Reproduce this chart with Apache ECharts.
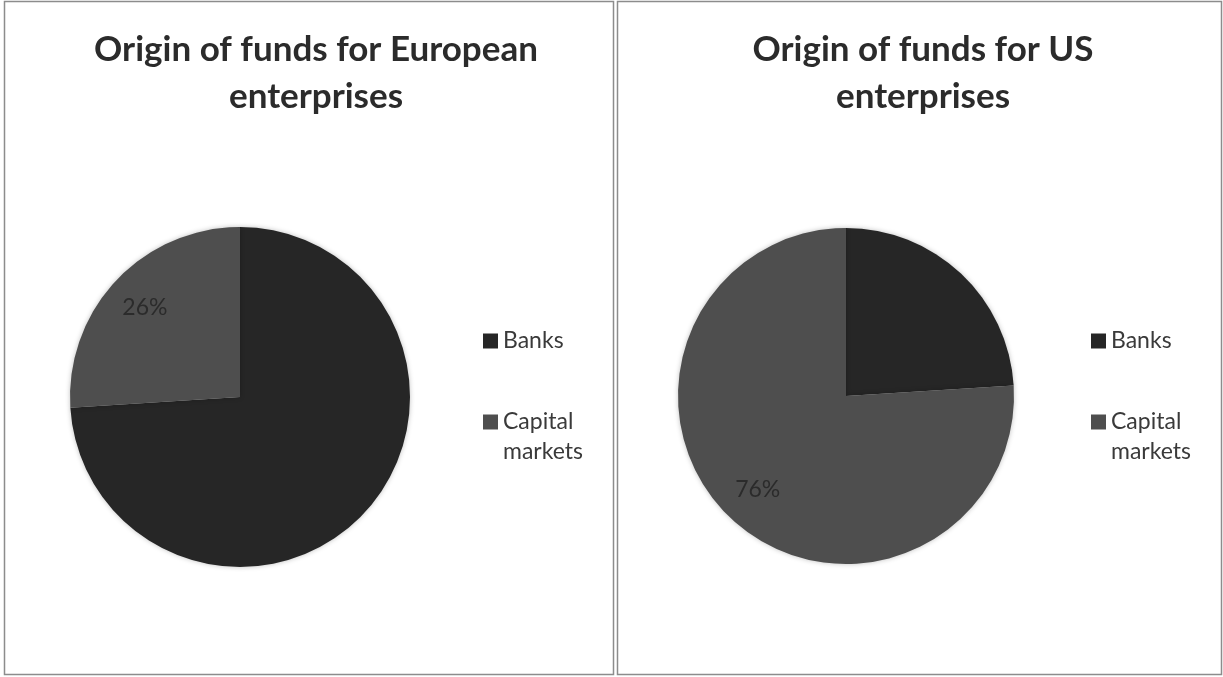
<!DOCTYPE html>
<html>
<head>
<meta charset="utf-8">
<script src="https://cdn.jsdelivr.net/npm/echarts@6/dist/echarts.min.js"></script>
<style>
  html, body { margin: 0; padding: 0; background: #fff; }
  #chart { width: 1223px; height: 677px; }
</style>
</head>
<body>
<div id="chart"></div>
<script>
// Funding sources, in percent of the total
const categories = ['Banks', 'Capital markets'];
const europeValues = [74, 26];
const usValues = [24, 76];
const titles = ['Origin of funds for European\nenterprises', 'Origin of funds for US\nenterprises'];

const sliceColors = ['#262626', '#4e4e4e'];
const FONT = 'Lato, "Open Sans", sans-serif';

function pieData(values) {
  return categories.map((name, i) => ({ name, value: values[i] }));
}

// Transparent ring over each pie: its "inside" labels land at 3/4 of the radius
function labelData(values) {
  return categories.map((name, i) => ({
    name,
    value: values[i],
    label: { show: i === 1 }
  }));
}

function pieSeries(values, center, r) {
  return [
    {
      type: 'pie',
      center,
      radius: r,
      startAngle: 90,
      clockwise: true,
      silent: true,
      label: { show: false },
      labelLine: { show: false },
      itemStyle: { borderWidth: 0, shadowBlur: 5, shadowColor: 'rgba(0,0,0,0.25)' },
      emphasis: { disabled: true },
      data: pieData(values)
    },
    {
      type: 'pie',
      center,
      radius: [r / 2, r],
      startAngle: 90,
      clockwise: true,
      silent: true,
      itemStyle: { color: 'rgba(0,0,0,0)', borderWidth: 0 },
      label: {
        show: true,
        position: 'inside',
        formatter: '{c}%',
        color: '#2b2b2b',
        fontFamily: FONT,
        fontSize: 23,
        fontWeight: 'normal'
      },
      labelLine: { show: false },
      emphasis: { disabled: true },
      data: labelData(values)
    }
  ];
}

// Vertical legend; a two-line entry gets an empty first line so that
// its square sits beside "Capital" rather than between the lines
function legendAt(left) {
  return {
    orient: 'vertical',
    left,
    top: 321,
    icon: 'rect',
    itemWidth: 15,
    itemHeight: 15,
    itemGap: 21,
    selectedMode: false,
    data: categories,
    formatter: name => (name.indexOf(' ') >= 0 ? '\n' + name.replace(' ', '\n') : name),
    textStyle: {
      fontFamily: FONT,
      fontSize: 23,
      color: '#3a3a3a',
      lineHeight: 30
    }
  };
}

const titleStyle = { fontFamily: FONT, fontWeight: 'bold', fontSize: 35, lineHeight: 47, color: '#2b2b2b' };

const chart = echarts.init(document.getElementById('chart'), null, { renderer: 'canvas' });

chart.setOption({
  backgroundColor: '#ffffff',
  animation: false,
  color: sliceColors,
  title: [
    { text: titles[0], left: 311, top: 21, textAlign: 'center', textStyle: titleStyle },
    { text: titles[1], left: 918, top: 21, textAlign: 'center', textStyle: titleStyle }
  ],
  legend: [legendAt(478), legendAt(1086)],
  graphic: [
    { type: 'rect', shape: { x: 4.5, y: 1.5, width: 609, height: 673 },
      style: { fill: 'none', stroke: '#8c8c8c', lineWidth: 1.5 }, silent: true },
    { type: 'rect', shape: { x: 617.5, y: 1.5, width: 604, height: 673 },
      style: { fill: 'none', stroke: '#8c8c8c', lineWidth: 1.5 }, silent: true }
  ],
  series: [
    ...pieSeries(europeValues, [240, 397], 170),
    ...pieSeries(usValues, [846, 396], 168)
  ]
});
</script>
</body>
</html>
